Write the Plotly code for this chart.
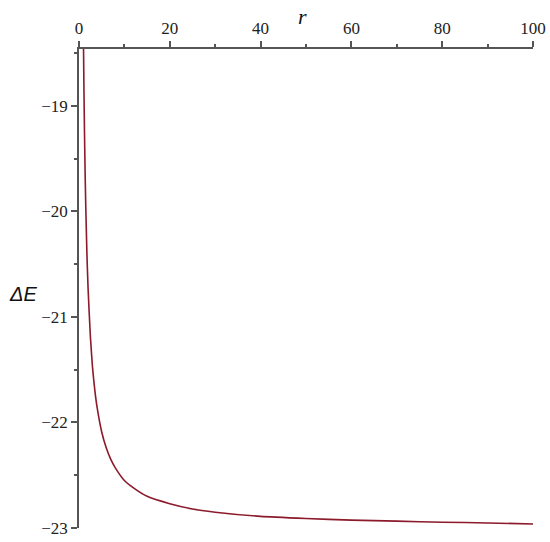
import plotly.graph_objects as go

r_vals = [1.0, 1.1, 1.2, 1.35, 1.5, 1.75, 2, 2.5, 3, 3.5, 4, 5, 6, 7, 8, 10, 12, 15, 20, 25, 30, 40, 50, 60, 70, 80, 90, 100]
dE_vals = [-18.46, -18.87, -19.22, -19.64, -19.97, -20.41, -20.73, -21.18, -21.49, -21.70, -21.86,
           -22.09, -22.24, -22.35, -22.43, -22.55, -22.62, -22.70, -22.77, -22.82, -22.85,
           -22.89, -22.91, -22.925, -22.935, -22.945, -22.952, -22.962]
x_ticks = [0, 20, 40, 60, 80, 100]
y_ticks = [-19, -20, -21, -22, -23]

fig = go.Figure(go.Scatter(x=r_vals, y=dE_vals, mode="lines",
                           line=dict(color="#8b1a2b", width=1.6, shape="spline", smoothing=0.5),
                           hoverinfo="skip"))

axis_font = dict(family="Liberation Serif, Times New Roman, serif", size=17, color="#222")
fig.update_layout(
    width=550, height=542,
    margin=dict(l=79, r=17, t=49, b=14, autoexpand=False),
    paper_bgcolor="white", plot_bgcolor="white",
    showlegend=False,
    xaxis=dict(range=[0, 100], side="top", tickvals=x_ticks, ticktext=[str(v) for v in x_ticks],
               automargin=False,
               showgrid=False, zeroline=False, showline=True, linecolor="#555", linewidth=1.5,
               ticks="outside", ticklen=6, tickcolor="#555", tickwidth=1.5, tickfont=axis_font,
               minor=dict(dtick=10, tick0=0, ticks="outside", ticklen=3, tickcolor="#555", showgrid=False)),
    yaxis=dict(range=[-23, -18.46], tickvals=y_ticks, ticktext=["\u2212" + str(-v) for v in y_ticks],
               automargin=False,
               showgrid=False, zeroline=False, showline=True, linecolor="#555", linewidth=1.5,
               ticks="outside", ticklen=6, tickcolor="#555", tickwidth=1.5, tickfont=axis_font,
               minor=dict(dtick=0.5, tick0=-23, ticks="outside", ticklen=3, tickcolor="#555", showgrid=False)),
    annotations=[
        dict(text="<i>r</i>", xref="paper", yref="paper", x=0.493, y=1.0, yshift=33,
             showarrow=False, font=dict(family="Liberation Serif, Times New Roman, serif", size=22, color="#111"),
             xanchor="center", yanchor="middle"),
        dict(text="<i>\u0394E</i>", xref="paper", yref="paper", x=0, xshift=-40, y=0.5, yshift=-5,
             showarrow=False, font=dict(family="Liberation Sans, Arial, sans-serif", size=20, color="#111"),
             xanchor="right", yanchor="middle"),
    ],
)
fig.write_html("out.html", config={"displayModeBar": False},
               post_script="document.body.style.margin='0';document.body.style.overflow='hidden';")
